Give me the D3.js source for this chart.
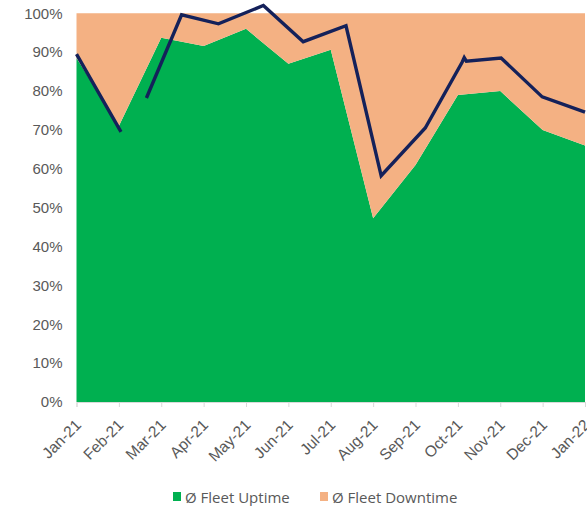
<!DOCTYPE html>
<html><head><meta charset="utf-8">
<script src="https://cdn.jsdelivr.net/npm/d3@7/dist/d3.min.js"></script>
<style>
body{margin:0;background:#fff;}
svg{display:block;font-family:"Open Sans",sans-serif;}
</style></head>
<body>
<svg id="c" width="587" height="506"></svg>
<script>
const months = ["Jan-21","Feb-21","Mar-21","Apr-21","May-21","Jun-21","Jul-21","Aug-21","Sep-21","Oct-21","Nov-21","Dec-21","Jan-22"];
const uptime = [88.5, 71, 93.7, 91.6, 96, 87, 90.6, 47.3, 61, 79, 80, 70, 66];
const downtime = uptime.map(v => 100 - v);
// overlay line: [month position, value]; null marks a break
const linePos = [0, 1.05, null, 1.65, 2.48, 3.35, 4.41, 5.35, 6.36, 7.19, 8.23, 9.1, 9.15, 9.2, 10.02, 10.99, 12];
const lineVal = [89.5, 69.5, null, 78.2, 99.6, 97.3, 102, 92.7, 96.8, 58.2, 70.5, 87.4, 88.6, 87.7, 88.5, 78.5, 74.6];
const yTicks = [0,10,20,30,40,50,60,70,80,90,100];
const seriesNames = ["Ø Fleet Uptime","Ø Fleet Downtime"];
const colors = ["#00B050","#F4B183"];

const svg = d3.select("#c");
const x = d3.scaleLinear().domain([0, months.length-1]).range([76.5, 585]);
const y = d3.scaleLinear().domain([0,100]).range([402, 13.3]);

// stacked areas
const stackData = months.map((m,i)=>({i, up: uptime[i], down: downtime[i]}));
const stack = d3.stack().keys(["up","down"])(stackData);
const area = d3.area().x(d=>x(d.data.i)).y0(d=>y(d[0])).y1(d=>y(d[1]));
svg.append("g").selectAll("path").data(stack).join("path")
  .attr("d", area).attr("fill",(d,i)=>colors[i]);

// x axis
const xAxis = d3.axisBottom(x).tickValues(d3.range(months.length)).tickFormat(i=>months[i]).tickSize(5).tickPadding(4);
const gx = svg.append("g").attr("transform","translate(0,402)").call(xAxis);
gx.select(".domain").attr("stroke","#d9d9d9");
gx.selectAll(".tick line").attr("stroke","#d9d9d9");
gx.selectAll(".tick text")
  .attr("fill","#595959").style("font-size","15.5px")
  .attr("text-anchor","end")
  .attr("dy",null).attr("y",null)
  .attr("transform","translate(5,24) rotate(-45)");

// y axis
const yAxis = d3.axisLeft(y).tickValues(yTicks).tickFormat(d=>d+"%").tickSize(0).tickPadding(14);
const gy = svg.append("g").attr("transform","translate(76.5,0)").call(yAxis);
gy.select(".domain").remove();
gy.selectAll(".tick text").attr("fill","#595959").style("font-size","15px");

// overlay line
const pts = linePos.map((p,i)=>({p, v: lineVal[i]}));
const line = d3.line().defined(d=>d.p!==null).x(d=>x(d.p)).y(d=>y(d.v));
svg.append("path").datum(pts).attr("d",line)
  .attr("fill","none").attr("stroke","#14215A").attr("stroke-width",3.4)
  .attr("stroke-linejoin","miter").attr("stroke-linecap","butt");

// legend
const lg = svg.append("g").attr("transform","translate(0,497)");
const legendX = [173, 320];
seriesNames.forEach((n,i)=>{
  lg.append("rect").attr("x",legendX[i]).attr("y",-5).attr("width",8).attr("height",9).attr("fill",colors[i]);
  lg.append("text").attr("x",legendX[i]+12).attr("y",5.5).text(n)
    .attr("fill","#595959").style("font-size","15px");
});
</script>
</body></html>
